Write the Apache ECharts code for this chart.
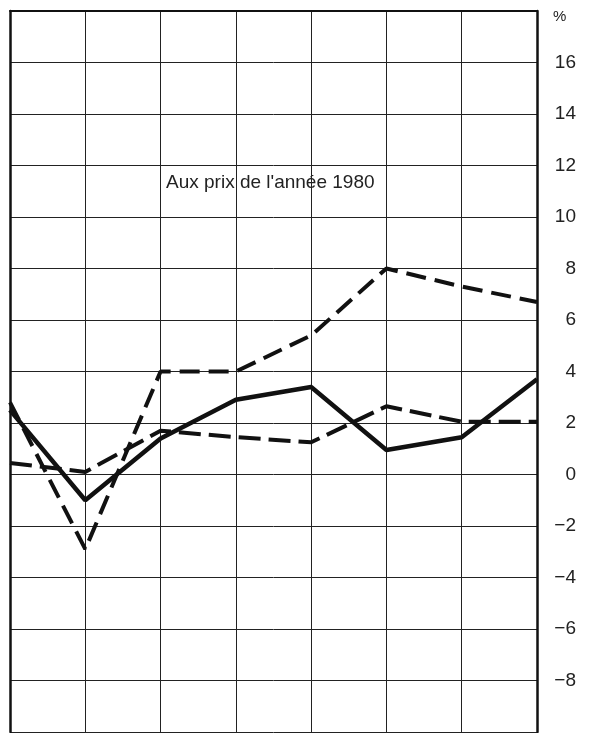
<!DOCTYPE html>
<html>
<head>
<meta charset="utf-8">
<script src="https://cdn.jsdelivr.net/npm/echarts@6/dist/echarts.min.js"></script>
<style>
html,body{margin:0;padding:0;background:#fff;}
#chart{width:589px;height:733px;}
</style>
</head>
<body>
<div id="chart"></div>
<script>
// Data
const categories = ['1', '2', '3', '4', '5', '6', '7', '8'];
const seriesSolid = [2.5, -1.0, 1.4, 2.9, 3.4, 0.95, 1.45, 3.7];
const seriesDashedHigh = [2.8, -2.9, 4.0, 4.0, 5.4, 8.0, 7.3, 6.7];
const seriesDashedLow = [0.45, 0.1, 1.7, 1.45, 1.25, 2.65, 2.05, 2.05];
const yTicks = [16, 14, 12, 10, 8, 6, 4, 2, 0, -2, -4, -6, -8];
const annotation = "Aux prix de l'année 1980";
const unitLabel = '%';

const chart = echarts.init(document.getElementById('chart'), null, {renderer: 'canvas'});
const font = '"Liberation Sans", Arial, Helvetica, sans-serif';
const ink = '#111';

const option = {
  backgroundColor: '#fff',
  animation: false,
  grid: {left: 10, right: 52, top: 11, bottom: 1, containLabel: false},
  xAxis: [{
    type: 'category',
    data: categories,
    boundaryGap: false,
    axisLine: {show: false},
    axisTick: {show: false},
    axisLabel: {show: false},
    splitLine: {show: true, lineStyle: {color: '#222', width: 1}}
  }, {
    type: 'category',
    data: categories,
    position: 'top',
    boundaryGap: false,
    axisLine: {show: true, onZero: false, lineStyle: {color: ink, width: 2}},
    axisTick: {show: false},
    axisLabel: {show: false},
    splitLine: {show: false}
  }],
  yAxis: [{
    type: 'value',
    position: 'right',
    min: -10,
    max: 18,
    interval: 2,
    axisLine: {show: true, onZero: false, lineStyle: {color: ink, width: 2.5}},
    axisTick: {show: false},
    splitLine: {show: true, lineStyle: {color: '#222', width: 1}},
    axisLabel: {
      show: true,
      align: 'right',
      margin: 39,
      color: '#222',
      fontFamily: font,
      fontSize: 19,
      formatter: function (v) {
        if (yTicks.indexOf(v) < 0) return '';
        return v < 0 ? '\u2212' + Math.abs(v) : String(v);
      }
    }
  }, {
    type: 'value',
    position: 'left',
    min: -10,
    max: 18,
    interval: 2,
    axisLine: {show: true, onZero: false, lineStyle: {color: ink, width: 2.5}},
    axisTick: {show: false},
    axisLabel: {show: false},
    splitLine: {show: false}
  }],
  graphic: [{
    type: 'text',
    left: 553,
    top: 9,
    style: {text: unitLabel, fontFamily: font, fontSize: 15, fill: '#222'}
  }, {
    type: 'text',
    left: 166,
    top: 173,
    style: {text: annotation, fontFamily: font, fontSize: 19, fill: '#222'}
  }],
  series: [{
    type: 'line',
    data: seriesDashedHigh,
    symbol: 'none',
    lineStyle: {color: ink, width: 4, type: [20, 9]},
    z: 3
  }, {
    type: 'line',
    data: seriesDashedLow,
    symbol: 'none',
    lineStyle: {color: ink, width: 4, type: [22, 8]},
    z: 3
  }, {
    type: 'line',
    data: seriesSolid,
    symbol: 'none',
    lineStyle: {color: ink, width: 4.5},
    z: 4
  }]
};
chart.setOption(option);
</script>
</body>
</html>
